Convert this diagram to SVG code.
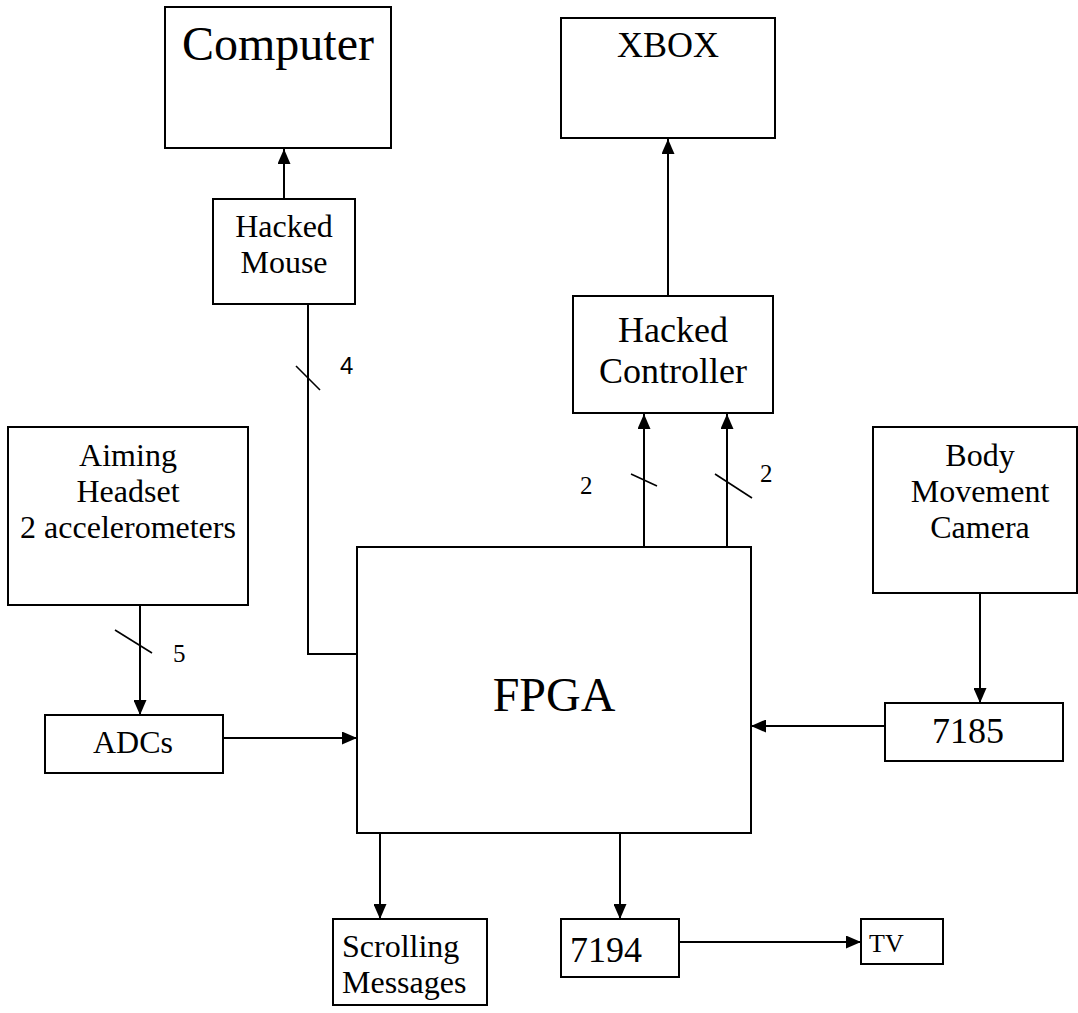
<svg xmlns="http://www.w3.org/2000/svg" width="1078" height="1013" viewBox="0 0 1078 1013">
  <style>
    .box { fill: #ffffff; stroke: #000000; stroke-width: 2; }
    .lbl { font-family: "Liberation Serif", "Times New Roman", serif; fill: #000000; }
    .mid { text-anchor: middle; }
    .wire { fill: none; stroke: #000000; stroke-width: 2; }
    .arrow { fill: none; stroke: #000000; stroke-width: 2; marker-end: url(#head); }
    .bus { fill: none; stroke: #000000; stroke-width: 1.6; }
    .num { font-family: "Liberation Serif", "Times New Roman", serif; font-size: 25px; fill: #000000; }
    .num-sans { font-family: "Liberation Sans", Arial, sans-serif; font-size: 24px; fill: #000000; }
  </style>
  <defs>
    <marker id="head" viewBox="0 0 15 13" refX="15" refY="6.5" markerWidth="15" markerHeight="13" markerUnits="userSpaceOnUse" orient="auto">
      <path d="M0,0 L15,6.5 L0,13 Z" fill="#000000"/>
    </marker>
  </defs>

  <rect width="1078" height="1013" fill="#ffffff"/>

  <!-- connectors -->
  <g id="connectors">
    <!-- mouse to computer -->
    <line class="arrow" x1="284" y1="199" x2="284" y2="149"/>
    <!-- FPGA bus up to the hacked mouse -->
    <polyline class="wire" points="357,654 308,654 308,304"/>
    <line class="bus" x1="296" y1="366" x2="320" y2="390"/>
    <text class="num-sans" x="340" y="374">4</text>
    <!-- controller to xbox -->
    <line class="arrow" x1="668" y1="296" x2="668" y2="139"/>
    <!-- FPGA to hacked controller, two 2-bit buses -->
    <line class="arrow" x1="644" y1="547" x2="644" y2="414"/>
    <line class="arrow" x1="727" y1="547" x2="727" y2="414"/>
    <line class="bus" x1="631" y1="474" x2="657" y2="486"/>
    <line class="bus" x1="715" y1="474" x2="752" y2="498"/>
    <text class="num" x="580" y="494">2</text>
    <text class="num" x="760" y="482">2</text>
    <!-- headset to ADCs -->
    <line class="arrow" x1="140" y1="605" x2="140" y2="715"/>
    <line class="bus" x1="115" y1="630" x2="152" y2="653"/>
    <text class="num" x="173" y="662">5</text>
    <!-- ADCs to FPGA -->
    <line class="arrow" x1="223" y1="738" x2="357" y2="738"/>
    <!-- camera to 7185 -->
    <line class="arrow" x1="980" y1="593" x2="980" y2="703"/>
    <!-- 7185 to FPGA -->
    <line class="arrow" x1="885" y1="726" x2="751" y2="726"/>
    <!-- FPGA outputs -->
    <line class="arrow" x1="380" y1="833" x2="380" y2="919"/>
    <line class="arrow" x1="620" y1="833" x2="620" y2="919"/>
    <!-- 7194 to TV -->
    <line class="arrow" x1="679" y1="942" x2="861" y2="942"/>
  </g>

  <g id="computer">
    <rect class="box" x="165" y="7" width="226" height="141"/>
    <text class="lbl mid" x="278" y="60" font-size="48">Computer</text>
  </g>

  <g id="xbox">
    <rect class="box" x="561" y="18" width="214" height="120"/>
    <text class="lbl mid" x="668" y="57" font-size="36">XBOX</text>
  </g>

  <g id="hacked-mouse">
    <rect class="box" x="213" y="199" width="142" height="105"/>
    <text class="lbl mid" x="284" y="237" font-size="32">Hacked</text>
    <text class="lbl mid" x="284" y="273" font-size="32">Mouse</text>
  </g>

  <g id="hacked-controller">
    <rect class="box" x="573" y="296" width="200" height="117"/>
    <text class="lbl mid" x="673" y="342" font-size="36">Hacked</text>
    <text class="lbl mid" x="673" y="383" font-size="36">Controller</text>
  </g>

  <g id="aiming-headset">
    <rect class="box" x="8" y="427" width="240" height="178"/>
    <text class="lbl mid" x="128" y="466" font-size="32">Aiming</text>
    <text class="lbl mid" x="128" y="502" font-size="32">Headset</text>
    <text class="lbl mid" x="128" y="538" font-size="32">2 accelerometers</text>
  </g>

  <g id="body-camera">
    <rect class="box" x="873" y="427" width="204" height="166"/>
    <text class="lbl mid" x="980" y="466" font-size="32">Body</text>
    <text class="lbl mid" x="980" y="502" font-size="32">Movement</text>
    <text class="lbl mid" x="980" y="538" font-size="32">Camera</text>
  </g>

  <g id="fpga">
    <rect class="box" x="357" y="547" width="394" height="286"/>
    <text class="lbl mid" x="554" y="711" font-size="48">FPGA</text>
  </g>

  <g id="adcs">
    <rect class="box" x="45" y="715" width="178" height="58"/>
    <text class="lbl mid" x="133" y="753" font-size="32">ADCs</text>
  </g>

  <g id="dec-7185">
    <rect class="box" x="885" y="703" width="178" height="58"/>
    <text class="lbl mid" x="968" y="743" font-size="36">7185</text>
  </g>

  <g id="scrolling-messages">
    <rect class="box" x="333" y="919" width="154" height="86"/>
    <text class="lbl" x="342" y="957" font-size="32">Scrolling</text>
    <text class="lbl" x="342" y="993" font-size="32">Messages</text>
  </g>

  <g id="enc-7194">
    <rect class="box" x="561" y="919" width="118" height="58"/>
    <text class="lbl" x="570" y="962" font-size="36">7194</text>
  </g>

  <g id="tv">
    <rect class="box" x="861" y="919" width="82" height="45"/>
    <text class="lbl" x="869" y="952" font-size="26">TV</text>
  </g>
</svg>
